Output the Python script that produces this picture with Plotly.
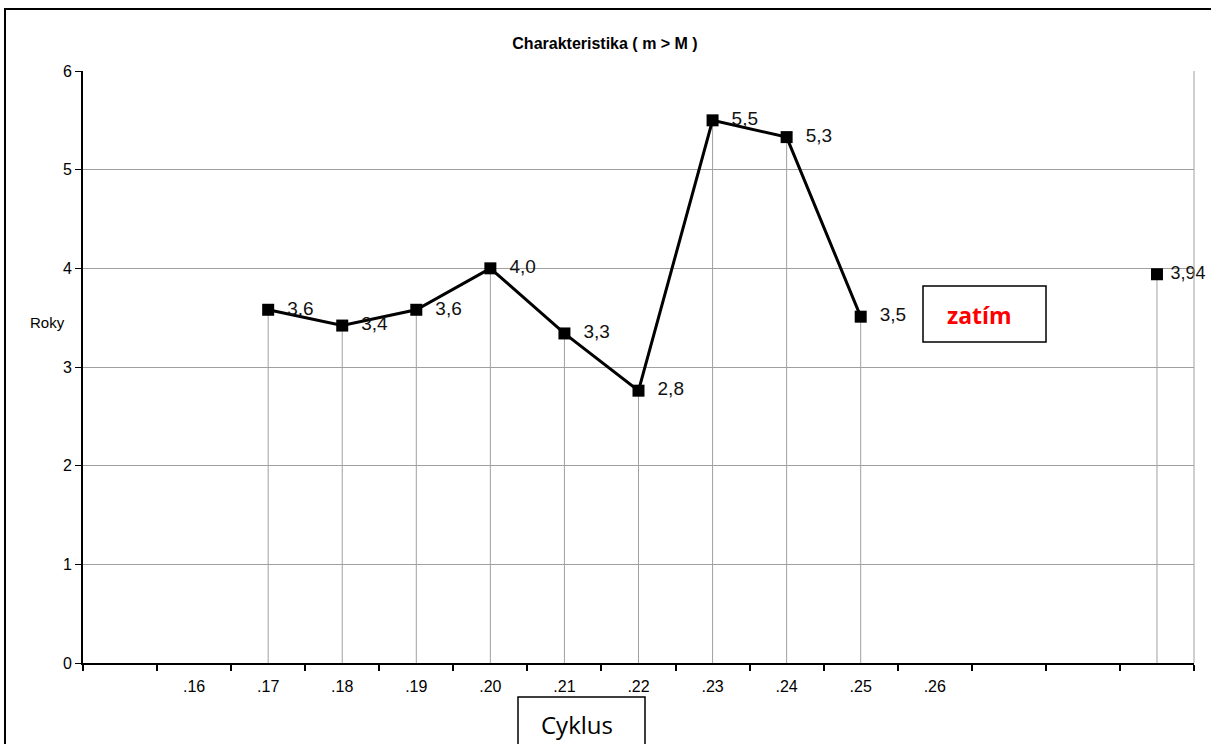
import plotly.graph_objects as go

# ---- data ----
categories = ["", ".16", ".17", ".18", ".19", ".20", ".21", ".22", ".23", ".24", ".25", ".26", "", "", ""]
values = [None, None, 3.58, 3.42, 3.58, 4.0, 3.34, 2.76, 5.5, 5.33, 3.51, None, None, None, 3.94]
labels = ["", "", "3,6", "3,4", "3,6", "4,0", "3,3", "2,8", "5,5", "5,3", "3,5", "", "", "", "3,94"]

title_text = "Charakteristika ( m > M )"
y_title = "Roky"
x_title = "Cyklus"
note_text = "zatím"

xs = list(range(len(categories)))
px_x = [x for x, v in zip(xs, values) if v is not None]
px_y = [v for v in values if v is not None]
disp_labels = []
for i, t in enumerate(labels):
    if not t:
        disp_labels.append("")
    elif i == len(labels) - 1:
        disp_labels.append("\u00a0" + t)
    else:
        disp_labels.append("\u00a0\u00a0" + t)

FONT = "Liberation Sans, Arial, sans-serif"

fig = go.Figure()

# drop lines (as error bars down to 0)
fig.add_trace(go.Scatter(
    x=px_x, y=px_y, mode="markers",
    marker=dict(size=1, color="rgba(0,0,0,0)"),
    error_y=dict(type="data", symmetric=False, array=[0] * len(px_y),
                 arrayminus=px_y, color="#a0a0a0", thickness=1, width=0),
    hoverinfo="skip", showlegend=False))

# main line
fig.add_trace(go.Scatter(
    x=xs, y=values, mode="lines+markers+text",
    text=disp_labels, textposition="middle right",
    textfont=dict(family=FONT, size=[19] * 14 + [18], color="#111111"),
    line=dict(color="black", width=3),
    marker=dict(symbol="square", size=12, color="black"),
    connectgaps=False, showlegend=False, cliponaxis=False))

# outer frame
fig.add_shape(type="rect", xref="paper", yref="paper",
              x0=(5 - 83) / 1111, x1=1.2, y0=-0.3, y1=(663 - 9) / 592,
              line=dict(color="black", width=2), layer="below")
# right plot border
fig.add_shape(type="line", xref="paper", yref="paper", x0=1, x1=1, y0=0, y1=1,
              line=dict(color="#a0a0a0", width=1))

# zatim box
fig.add_shape(type="rect", xref="paper", yref="paper",
              x0=(923 - 83) / 1111, x1=(1046 - 83) / 1111,
              y0=(663 - 342) / 592, y1=(663 - 286) / 592,
              line=dict(color="black", width=1.5), fillcolor="white")
fig.add_annotation(xref="paper", yref="paper", x=(979 - 83) / 1111, y=(663 - 315) / 592,
                   xanchor="center", yanchor="middle",
                   text="<b>" + note_text + "</b>", showarrow=False,
                   font=dict(family="Open Sans, sans-serif", size=23, color="#ff0000"))

# Cyklus box
fig.add_shape(type="rect", xref="paper", yref="paper",
              x0=(518 - 83) / 1111, x1=(645 - 83) / 1111,
              y0=-0.3, y1=(663 - 697) / 592,
              line=dict(color="black", width=1.5), fillcolor="white")
fig.add_annotation(xref="paper", yref="paper", x=(577 - 83) / 1111, y=(663 - 724) / 592,
                   xanchor="center", yanchor="middle",
                   text=x_title, showarrow=False,
                   font=dict(family="Open Sans, sans-serif", size=24, color="black"))

# Roky
fig.add_annotation(xref="paper", yref="paper", x=(47 - 83) / 1111, y=(663 - 322) / 592,
                   xanchor="center", yanchor="middle",
                   text=y_title, showarrow=False,
                   font=dict(family=FONT, size=15, color="black"))

fig.update_layout(
    width=1211, height=744,
    margin=dict(l=83, r=17, t=71, b=81),
    paper_bgcolor="white", plot_bgcolor="white",
    title=dict(text="<b>" + title_text + "</b>", x=605 / 1211, xanchor="center",
               y=1 - 43 / 744, yanchor="middle",
               font=dict(family=FONT, size=16, color="black")),
    font=dict(family=FONT, color="black"),
    xaxis=dict(range=[-0.5, len(categories) - 0.5], tickmode="array",
               tickvals=xs, ticktext=categories, ticks="",
               showgrid=False, zeroline=False,
               showline=True, linecolor="black", linewidth=2,
               ticklabelstandoff=8,
               tickfont=dict(family=FONT, size=16, color="black"),
               minor=dict(tickmode="array",
                          tickvals=[x - 0.5 for x in xs] + [len(categories) - 0.5],
                          ticks="outside", ticklen=6, tickcolor="black", tickwidth=1.5,
                          showgrid=False)),
    yaxis=dict(range=[0, 6], dtick=1, ticks="outside", ticklen=6, tickcolor="black",
               showgrid=True, gridcolor="#a0a0a0", gridwidth=1, zeroline=False,
               showline=True, linecolor="black", linewidth=2,
               tickfont=dict(family=FONT, size=16, color="black")),
)

fig.write_html("out.html", config={"displayModeBar": False},
               post_script="document.body.style.margin='0';document.body.style.overflow='hidden';")
